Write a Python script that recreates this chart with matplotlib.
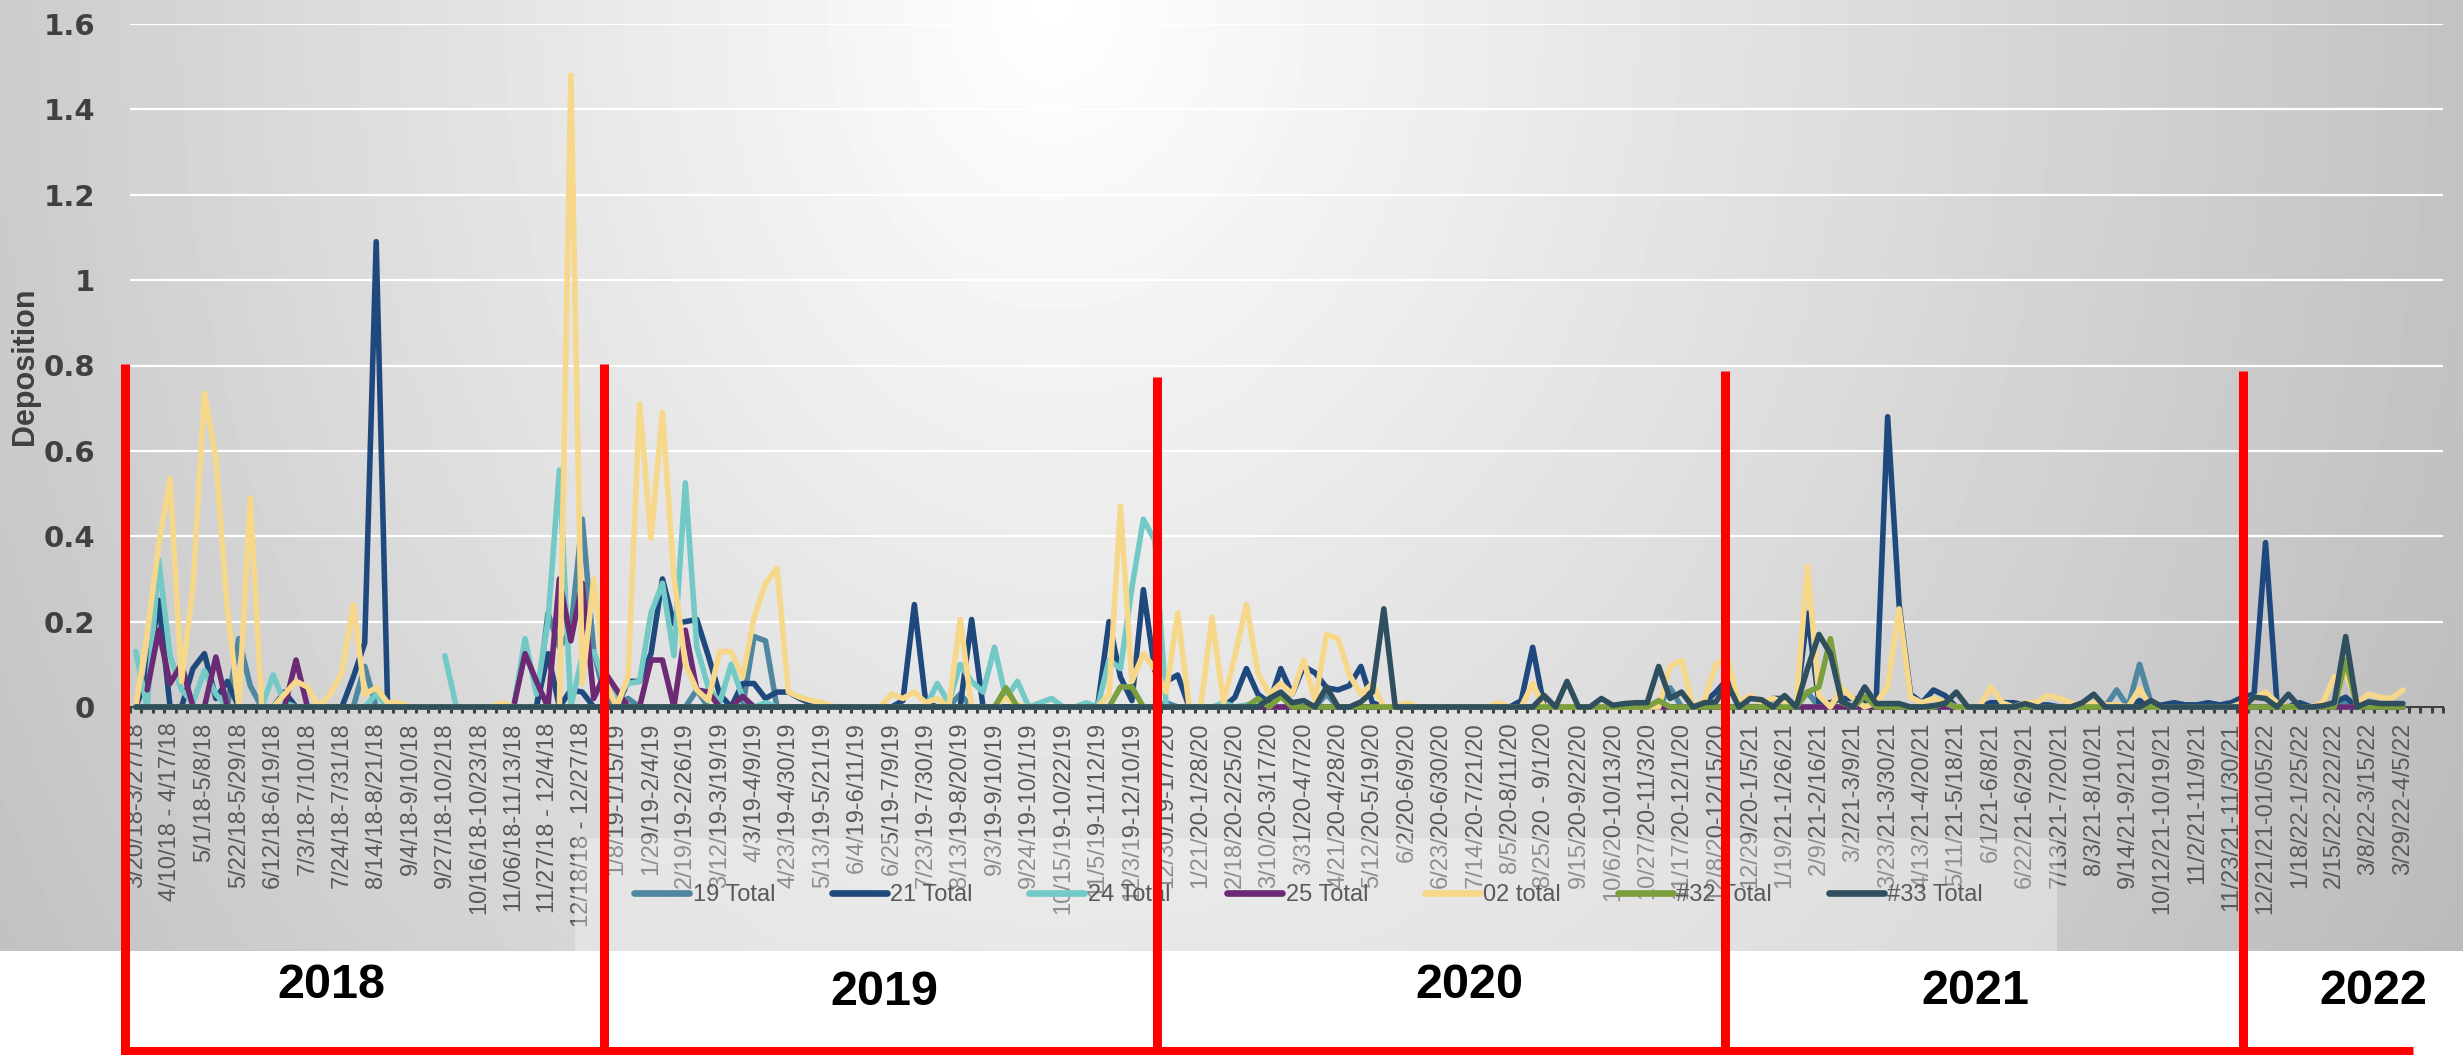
import numpy as np
import matplotlib.pyplot as plt
from matplotlib.lines import Line2D
from matplotlib.patches import Rectangle

plt.rcParams['font.family'] = ['Liberation Sans', 'DejaVu Sans']

W, H = 2463, 1055
nan = np.nan

# one label every third weekly sample
tick_labels = [
    '3/20/18-3/27/18', '4/10/18 - 4/17/18', '5/1/18-5/8/18', '5/22/18-5/29/18',
    '6/12/18-6/19/18', '7/3/18-7/10/18', '7/24/18-7/31/18', '8/14/18-8/21/18',
    '9/4/18-9/10/18', '9/27/18-10/2/18', '10/16/18-10/23/18', '11/06/18-11/13/18',
    '11/27/18 - 12/4/18', '12/18/18 - 12/27/18',
    '1/8/19-1/15/19', '1/29/19-2/4/19', '2/19/19-2/26/19', '3/12/19-3/19/19',
    '4/3/19-4/9/19', '4/23/19-4/30/19', '5/13/19-5/21/19', '6/4/19-6/11/19',
    '6/25/19-7/9/19', '7/23/19-7/30/19', '8/13/19-8/20/19', '9/3/19-9/10/19',
    '9/24/19-10/1/19', '10/15/19-10/22/19', '11/5/19-11/12/19', '12/3/19-12/10/19',
    '12/30/19-1/7/20',
    '1/21/20-1/28/20', '2/18/20-2/25/20', '3/10/20-3/17/20', '3/31/20-4/7/20',
    '4/21/20-4/28/20', '5/12/20-5/19/20', '6/2/20-6/9/20', '6/23/20-6/30/20',
    '7/14/20-7/21/20', '8/5/20-8/11/20', '8/25/20 - 9/1/20', '9/15/20-9/22/20',
    '10/6/20-10/13/20', '10/27/20-11/3/20', '11/17/20-12/1/20', '12/8/20-12/15/20',
    '12/29/20-1/5/21', '1/19/21-1/26/21', '2/9/21-2/16/21', '3/2/21-3/9/21',
    '3/23/21-3/30/21', '4/13/21-4/20/21', '5/11/21-5/18/21', '6/1/21-6/8/21',
    '6/22/21-6/29/21', '7/13/21-7/20/21', '8/3/21-8/10/21', '9/14/21-9/21/21',
    '10/12/21-10/19/21', '11/2/21-11/9/21', '11/23/21-11/30/21',
    '12/21/21-01/05/22', '1/18/22-1/25/22', '2/15/22-2/22/22', '3/8/22-3/15/22',
    '3/29/22-4/5/22',
]
n_cat = 202
years = ['2018', '2019', '2020', '2021', '2022']
y_ticks = [0, 0.2, 0.4, 0.6, 0.8, 1.0, 1.2, 1.4, 1.6]
y_tick_labels = ['0', '0.2', '0.4', '0.6', '0.8', '1', '1.2', '1.4', '1.6']

names = ['19 Total', '21 Total', '24 Total', '25 Total', '02 total', '#32 Total', '#33 Total']

s19 = [
    0, 0, 0, 0, 0, 0, 0, 0, 0, 0.16,
    0.05, 0, 0, 0, 0, 0, 0, 0, 0, 0,
    0.095, 0, 0, 0, 0, 0, 0, 0, 0, 0,
    0, 0, 0, 0, 0, 0, 0.22, 0.14, 0.18, 0.44,
    0.13, 0.02, 0, 0.02, 0, 0, 0, 0, 0, 0.04,
    0, 0, 0, 0, 0.165, 0.155, 0, 0, 0, 0,
    0, 0, 0, 0, 0, 0, 0, 0, 0, 0,
    0, 0, 0.03, 0, 0, 0, 0, 0, 0, 0,
    0, 0, 0, 0, 0, 0, 0, 0, 0, 0,
    0.01, 0, 0, 0, 0, 0, 0, 0, 0, 0,
    0, 0, 0, 0, 0.03, 0, 0, 0, 0, 0,
    0, 0, 0, 0, 0, 0, 0, 0, 0, 0,
    0, 0, 0, 0, 0, 0, 0, 0, 0, 0,
    0, 0, 0, 0, 0.045, 0, 0, 0, 0, 0,
    0, 0, 0, 0, 0, 0, 0.035, 0, 0, 0,
    0, 0, 0, 0, 0, 0, 0, 0, 0, 0,
    0, 0, 0, 0, 0, 0, 0, 0, 0, 0,
    0, 0, 0, 0.04, 0, 0.1, 0.01, 0, 0, 0,
    0, 0, 0, 0, 0, 0, 0, 0, 0, 0,
    0, 0, 0, 0.01, 0, 0, 0, 0, 0,
]
s21 = [
    0, 0.07, 0.25, 0, 0, 0.09, 0.125, 0.02, 0.06, 0,
    0, 0, 0, 0.035, 0, 0, 0, 0, 0, 0.07,
    0.15, 1.09, 0, 0, 0, 0, 0, 0, 0, 0,
    0, 0, 0, 0, 0, 0, 0.125, 0, 0.04, 0.035,
    0, 0, 0, 0.06, 0.06, 0.125, 0.30, 0.195, 0.2, 0.205,
    0.12, 0.03, 0, 0.055, 0.055, 0.02, 0.035, 0.035, 0.02, 0.008,
    0, 0, 0, 0, 0, 0, 0, 0.015, 0.24, 0.01,
    0, 0, 0, 0.205, 0, 0, 0, 0, 0, 0,
    0, 0, 0, 0, 0, 0.2, 0.07, 0.015, 0.275, 0.085,
    0.06, 0.075, 0, 0, 0, 0, 0.023, 0.09, 0.03, 0.01,
    0.09, 0.03, 0.095, 0.08, 0.045, 0.04, 0.05, 0.095, 0.01, 0,
    0, 0, 0, 0, 0, 0, 0, 0, 0, 0,
    0, 0.015, 0.14, 0, 0, 0, 0, 0, 0, 0,
    0, 0, 0, 0, 0, 0, 0, 0.01, 0.035, 0.065,
    0.01, 0, 0, 0.02, 0.02, 0, 0.22, 0.01, 0.01, 0.02,
    0.02, 0.015, 0.015, 0.68, 0.24, 0.03, 0.01, 0.04, 0.027, 0,
    0, 0, 0.01, 0.01, 0.01, 0.005, 0.005, 0.005, 0, 0,
    0, 0, 0, 0, 0, 0.015, 0, 0.005, 0.01, 0.005,
    0.005, 0.01, 0.005, 0.01, 0.023, 0.03, 0.385, 0.01, 0, 0.01,
    0, 0, 0.01, 0.023, 0, 0.01, 0, 0, 0,
]
s24 = [
    0.13, 0, 0.345, 0.12, 0.04, 0.01, 0.085, 0.03, 0, 0,
    0, 0, 0.075, 0.01, 0, 0, 0, 0, 0, 0,
    0, 0.03, 0, nan, nan, nan, nan, 0.12, 0, nan,
    nan, nan, nan, 0, 0.16, 0.03, 0.2, 0.555, 0, 0.12,
    0.13, 0.055, 0.023, 0.055, 0.06, 0.22, 0.29, 0.12, 0.525, 0.14,
    0.047, 0.01, 0.10, 0.023, 0, 0.01, 0, 0, 0, 0,
    0, 0, 0, 0, 0, 0, 0, 0, 0, 0,
    0.055, 0.01, 0.1, 0.06, 0.035, 0.14, 0.02, 0.06, 0, 0.01,
    0.02, 0, 0, 0.01, 0, 0.11, 0.09, 0.28, 0.44, 0.39,
    0, 0, 0, 0, 0, 0.01, 0, 0.005, 0.01, 0,
    0, 0, 0, 0, 0, 0, 0, 0, 0, 0,
    0, 0, 0, 0, 0, 0, 0, 0, 0, 0,
    0, 0, 0, 0, 0, 0, 0, 0, 0, 0,
    0, 0, 0, 0, 0, 0, 0, 0, 0, 0,
    0, 0, 0, 0, 0, 0, 0, 0, 0, 0,
    0, 0, 0, 0, 0, 0, 0, 0, 0, 0,
    0, 0, 0, 0, 0, 0, 0, 0, 0, 0,
    0, 0, 0, 0, 0, 0, 0, 0, 0, 0,
    0, 0, 0, 0, 0, 0, 0, 0, 0, 0,
    0, 0, 0, 0, 0, 0, 0, 0, 0,
]
s25 = [
    nan, 0.04, 0.18, 0.055, 0.1, 0, 0, 0.117, 0, 0,
    0, 0, 0, 0, 0.11, 0, 0, 0, 0, 0,
    0, 0, 0, 0, 0, 0, 0, 0, 0, 0,
    0, 0, 0, 0, 0.125, 0.06, 0, 0.30, 0.155, 0.29,
    0.02, 0.08, 0.04, 0, 0, 0.11, 0.11, 0, 0.18, 0.04,
    0.035, 0, 0, 0.025, 0, 0, 0, 0, 0, 0,
    0, 0, 0, 0, 0, 0, 0, 0, 0, 0,
    0, 0, 0, 0, 0, 0, 0, 0, 0, 0,
    0, 0, 0, 0, 0, 0, 0, 0, 0, 0,
    0, 0, 0, 0, 0, 0, 0, 0, 0, 0,
    0, 0, 0, 0, 0, 0, 0, 0, 0, 0,
    0, 0, 0, 0, 0, 0, 0, 0, 0, 0,
    0, 0, 0, 0, 0, 0, 0, 0, 0, 0,
    0, 0, 0, 0, 0, 0, 0, 0, 0, 0,
    0, 0, 0, 0, 0, 0, 0, 0, 0, 0,
    0, 0, 0, 0, 0, 0, 0, 0, 0, 0,
    0, 0, 0, 0, 0, 0, 0, 0, 0, 0,
    0, 0, 0, 0, 0, 0, 0, 0, 0, 0,
    0, 0, 0, 0, 0, 0, 0, 0, 0, 0,
    0, 0, 0, 0, 0, 0, 0, 0, 0,
]
s02 = [
    0, 0.17, 0.38, 0.535, 0.06, 0.28, 0.735, 0.58, 0.23, 0,
    0.49, 0, 0, 0.03, 0.06, 0.047, 0, 0.03, 0.08, 0.24,
    0.03, 0.045, 0.01, 0.01, 0, 0, 0, 0, 0, 0,
    0, 0, 0.01, 0, 0, 0, 0, 0, 1.48, 0.055,
    0.30, 0.06, 0, 0.07, 0.71, 0.395, 0.69, 0.305, 0.10, 0.04,
    0.015, 0.13, 0.13, 0.07, 0.21, 0.29, 0.325, 0.035, 0.023, 0.015,
    0.01, 0, 0, 0, 0, 0, 0.03, 0.02, 0.035, 0.01,
    0.02, 0, 0.205, 0, 0, 0, 0.02, 0.005, 0, 0,
    0, 0, 0, 0, 0, 0.03, 0.47, 0.06, 0.125, 0.09,
    0.035, 0.22, 0, 0, 0.21, 0.01, 0.12, 0.24, 0.08, 0.03,
    0.055, 0.03, 0.11, 0.015, 0.17, 0.16, 0.075, 0.03, 0.055, 0,
    0, 0.01, 0, 0, 0, 0, 0, 0, 0, 0.01,
    0, 0, 0.055, 0, 0, 0, 0, 0, 0, 0,
    0, 0, 0, 0, 0.095, 0.11, 0, 0.015, 0.1, 0.115,
    0.01, 0.027, 0.01, 0.02, 0.01, 0, 0.33, 0.027, 0, 0.043,
    0.02, 0, 0.01, 0.047, 0.23, 0.023, 0.01, 0.02, 0.01, 0,
    0, 0, 0.047, 0.01, 0, 0.01, 0.01, 0.027, 0.02, 0.01,
    0, 0.01, 0.005, 0.005, 0, 0.043, 0, 0, 0, 0,
    0, 0, 0, 0, 0.01, 0.02, 0.035, 0.01, 0, 0,
    0, 0.01, 0.07, 0.08, 0.01, 0.03, 0.023, 0.02, 0.04,
]
s32 = [
    0, 0, 0, 0, 0, 0, 0, 0, 0, 0,
    0, 0, 0, 0, 0, 0, 0, 0, 0, 0,
    0, 0, 0, 0, 0, 0, 0, 0, 0, 0,
    0, 0, 0, 0, 0, 0, 0, 0, 0, 0,
    0, 0, 0, 0, 0, 0, 0, 0, 0, 0,
    0, 0, 0, 0, 0, 0, 0, 0, 0, 0,
    0, 0, 0, 0, 0, 0, 0, 0, 0, 0,
    0, 0, 0, 0, 0, 0, 0.045, 0, 0, 0,
    0, 0, 0, 0, 0, 0, 0.047, 0.047, 0, 0,
    0, 0, 0, 0, 0, 0, 0, 0, 0.02, 0,
    0.025, 0, 0, 0, 0, 0, 0, 0, 0, 0,
    0, 0, 0, 0, 0, 0, 0, 0, 0, 0,
    0, 0, 0, 0, 0, 0, 0, 0, 0, 0,
    0, 0, 0, 0.015, 0, 0, 0, 0, 0, 0,
    0, 0, 0, 0, 0, 0, 0.035, 0.047, 0.16, 0.01,
    0, 0.025, 0, 0, 0, 0, 0, 0, 0.01, 0,
    0, 0, 0, 0, 0, 0, 0, 0, 0, 0,
    0, 0, 0, 0, 0, 0, 0, 0, 0, 0,
    0, 0, 0, 0, 0, 0, 0, 0, 0, 0,
    0, 0, 0, 0.11, 0, 0, 0, 0, 0,
]
s33 = [
    0, 0, 0, 0, 0, 0, 0, 0, 0, 0,
    0, 0, 0, 0, 0, 0, 0, 0, 0, 0,
    0, 0, 0, 0, 0, 0, 0, 0, 0, 0,
    0, 0, 0, 0, 0, 0, 0, 0, 0, 0,
    0, 0, 0, 0, 0, 0, 0, 0, 0, 0,
    0, 0, 0, 0, 0, 0, 0, 0, 0, 0,
    0, 0, 0, 0, 0, 0, 0, 0, 0, 0,
    0, 0, 0, 0, 0, 0, 0, 0, 0, 0,
    0, 0, 0, 0, 0, 0, 0, 0, 0, 0,
    0, 0, 0, 0, 0, 0, 0, 0, 0, 0.02,
    0.035, 0.01, 0.015, 0, 0.047, 0, 0, 0.012, 0.035, 0.23,
    0, 0, 0, 0, 0, 0, 0, 0, 0, 0,
    0, 0, 0, 0.027, 0, 0.06, 0, 0, 0.02, 0.004,
    0.008, 0.01, 0.01, 0.095, 0.02, 0.035, 0, 0.01, 0.012, 0.055,
    0, 0.02, 0.017, 0, 0.027, 0, 0.09, 0.17, 0.125, 0.012,
    0, 0.047, 0.008, 0.008, 0.008, 0, 0, 0.003, 0.008, 0.035,
    0, 0, 0, 0, 0, 0.008, 0, 0, 0, 0,
    0.01, 0.03, 0, 0, 0, 0, 0.015, 0, 0, 0,
    0, 0, 0, 0, 0, 0.023, 0.02, 0, 0.03, 0,
    0, 0.003, 0.01, 0.165, 0, 0.012, 0.008, 0.008, 0.008,
]

colors = ['#4f86a0', '#1f497d', '#72c9c5', '#6b2a73', '#f7d88a', '#7b9f3c', '#2f4f5e']

fig = plt.figure(figsize=(W / 100, H / 100), dpi=100)
fig.patch.set_facecolor('white')

# grey radial-ish chart background
bg = fig.add_axes([0, 1 - 951 / H, 1, 951 / H], zorder=-5)
gx, gy = np.meshgrid(np.linspace(0, W, 500), np.linspace(0, 951, 200))
sx = np.where(gx < 1050, 1300, 1500)
shade = 1 - 0.25 * np.hypot((gx - 1050) / sx, gy / 1800)
bg.imshow(shade, cmap='gray', vmin=0, vmax=1, aspect='auto', extent=(0, 1, 0, 1))
bg.axis('off')

ax = fig.add_axes([130 / W, 1 - 707 / H, (2443 - 130) / W, (707 - 24) / H])
ax.set_facecolor('none')

x = np.arange(len(s19))
for vals, name, c in zip([s19, s21, s24, s25, s02, s32, s33], names, colors):
    ax.plot(x, vals, color=c, lw=4.0, label=name, clip_on=False,
            solid_joinstyle='round', solid_capstyle='round', zorder=3)

ax.set_xlim(-0.5, n_cat - 0.5)
ax.set_ylim(0, 1.6)
ax.set_yticks(y_ticks)
ax.set_yticklabels(y_tick_labels)
ax.yaxis.grid(True, color='white', lw=1.6)
ax.set_axisbelow(True)
ax.tick_params(axis='y', length=0, pad=25, labelsize=21, labelcolor='#404040')
for t in ax.get_yticklabels():
    t.set_fontfamily('DejaVu Sans')
    t.set_fontweight('bold')

ax.set_xticks(np.arange(0, len(s19), 3))
ax.set_xticklabels(tick_labels, rotation=90)
ax.set_xticks(np.arange(-0.5, n_cat), minor=True)
ax.tick_params(axis='x', which='major', length=0, pad=11, labelsize=17, labelcolor='#595959')
ax.tick_params(axis='x', which='minor', length=4.5, width=2.2, color='#404040', direction='out')
for s in ['left', 'top', 'right']:
    ax.spines[s].set_visible(False)
ax.spines['bottom'].set_color('#404040')
ax.spines['bottom'].set_linewidth(1.5)

fig.text(25 / W, 1 - 366 / H, 'Deposition', rotation=90, ha='center', va='center',
         fontsize=22, fontweight='bold', color='#404040')

# translucent legend box sitting over the lower tick labels
fig.add_artist(Rectangle((575 / W, 1 - 951 / H), (2057 - 575) / W, (951 - 838) / H,
                         transform=fig.transFigure, facecolor='white', alpha=0.32,
                         edgecolor='none', zorder=4))
leg = fig.legend(loc='center left', bbox_to_anchor=(634 / W, 1 - 895 / H), ncol=7,
                 frameon=False, fontsize=17, handlelength=2.33, handletextpad=0.15,
                 columnspacing=2.4, borderpad=0, borderaxespad=0, labelcolor='#595959')
leg.set_zorder(6)
for h in leg.legend_handles:
    h.set_linewidth(4.8)

# red year boxes
red_x = [125, 604, 1157, 1725, 2243]
red_top = [364, 364, 377, 371, 371]
for xx, tt in zip(red_x, red_top):
    fig.add_artist(Line2D([xx / W, xx / W], [1 - tt / H, 0], transform=fig.transFigure,
                          color='#ff0000', lw=6.5, solid_capstyle='butt', zorder=8))
fig.add_artist(Line2D([120.5 / W, 2413 / W], [1 - 1051 / H, 1 - 1051 / H],
                      transform=fig.transFigure, color='#ff0000', lw=6.5,
                      solid_capstyle='butt', zorder=8))

year_x = [331, 884, 1469, 1975, 2373]
year_base = [998, 1005, 998, 1004, 1004]
for yr, xx, yy in zip(years, year_x, year_base):
    fig.text(xx / W, 1 - yy / H, yr, ha='center', va='baseline', fontsize=35,
             fontweight='bold', color='black')

fig.savefig('out.png', dpi=100, facecolor='white')
